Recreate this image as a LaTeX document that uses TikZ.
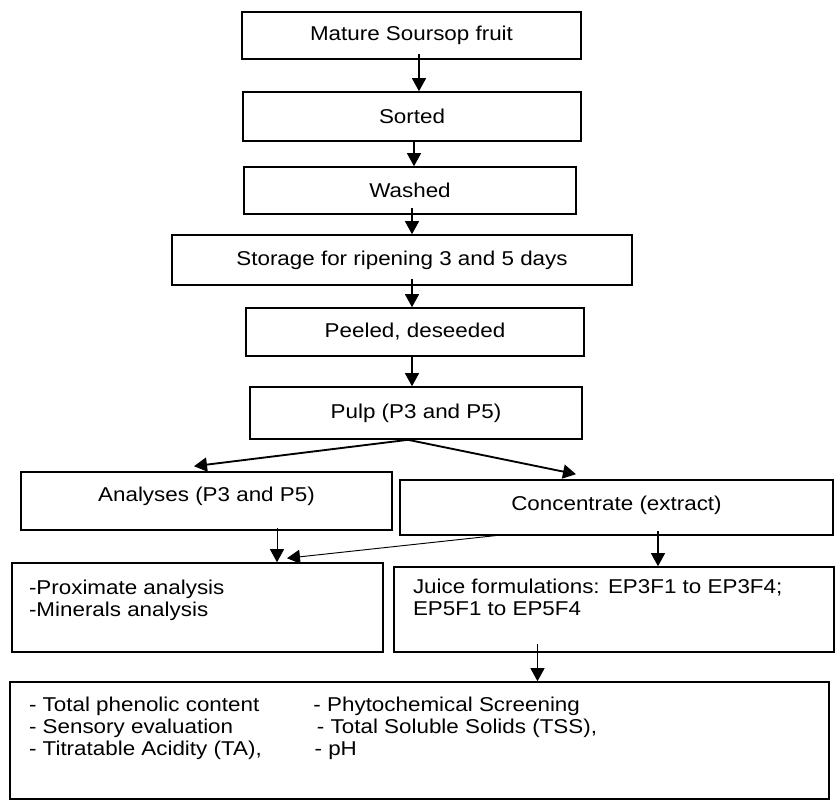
\documentclass[tikz,border=0pt]{standalone}
\usepackage{fontspec}
\setmainfont{Liberation Sans}[FakeStretch=1.12]
\usetikzlibrary{arrows.meta,calc}
\newcommand\diafont{\fontsize{15}{16.5}\selectfont}
\begin{document}
\begin{tikzpicture}[x=0.75pt,y=-0.75pt,
  box/.style={draw, line width=1.2pt, inner sep=0pt, align=center, font=\diafont},
  listbox/.style={draw, line width=1.2pt, inner ysep=0pt, font=\diafont},
  arr/.style={-{Triangle[width=10.5pt,length=9.75pt]}, line width=0.9pt},
  thinarr/.style={-{Triangle[width=10.5pt,length=9.75pt]}, line width=0.7pt},
  thickarr/.style={-{Triangle[width=10.5pt,length=9.75pt]}, line width=1.4pt}]
\path[fill=white, use as bounding box] (0,0) rectangle (836,801);

% process boxes
\node[box, minimum width=254.25pt, minimum height=35.25pt] (n1) at (411.5,35.5) {Mature Soursop fruit};
\node[box, minimum width=253.5pt, minimum height=36.75pt] (n2) at (412,116.5) {Sorted};
\node[box, minimum width=249pt, minimum height=35.25pt] (n3) at (410,190.5) {Washed};
\node[box, minimum width=345pt, minimum height=37.5pt] (n4) at (402,260) {Storage for ripening 3 and 5 days};
\node[box, minimum width=253.5pt, minimum height=36pt] (n5) at (415,332) {Peeled, deseeded};
\node[box, minimum width=249pt, minimum height=39pt] (n6) at (416,413) {Pulp (P3 and P5)};
\node[box, minimum width=278.25pt, text height=21.9pt, text depth=21.6pt] (n7) at (206.5,501) {Analyses (P3 and P5)};
\node[box, minimum width=324.75pt, text height=22.65pt, text depth=18.6pt] (n8) at (616.5,507.5) {Concentrate (extract)};

\node[listbox, inner xsep=12.75pt, text height=23.25pt, text depth=43.5pt] (n9) at (197.5,607.5)
  {\makebox[252.75pt][l]{\begin{tabular}[t]{@{}l@{}}-Proximate analysis\\-Minerals analysis\end{tabular}}};
\node[listbox, inner xsep=14.25pt, text height=19.5pt, text depth=44.25pt] (n10) at (614,609.5)
  {\makebox[301.5pt][l]{\begin{tabular}[t]{@{}l@{}}Juice formulations: EP3F1 to EP3F4;\\EP5F1 to EP5F4\end{tabular}}};
\node[listbox, inner xsep=14.25pt, text height=21.75pt, text depth=66pt] (n11) at (419.5,740.5)
  {\makebox[585.75pt][l]{\begin{tabular}[t]{@{}p{213.4pt}@{}l@{}}
  - Total phenolic content & - Phytochemical Screening\\
  - Sensory evaluation & \hspace{2.6pt}- Total Soluble Solids (TSS),\\
  - Titratable Acidity (TA), & \hspace{0.8pt}- pH
  \end{tabular}}};

% connector columns
\coordinate (c1) at (419,0);
\coordinate (c2) at (414,0);
\coordinate (c3) at (412,0);
\coordinate (cp) at (408,0);
\coordinate (cA) at (277,0);
\coordinate (cC) at (658,0);
\coordinate (cJ) at (537.5,0);
\coordinate (tA) at (194,0);
\coordinate (tC) at (576,0);
\coordinate (sD) at (503,0);
\coordinate (tD) at (287,0);

% connectors
\draw[arr] ($(n1.south -| c1)+(0,-6)$) -- (n2.north -| c1);
\draw[arr] (n2.south -| c2) -- (n3.north -| c2);
\draw[arr] ($(n3.south -| c3)+(0,-7)$) -- (n4.north -| c3);
\draw[arr] ($(n4.south -| c3)+(0,-7)$) -- (n5.north -| c3);
\draw[arr] (n5.south -| c3) -- (n6.north -| c3);
\draw[thickarr] (n6.south -| cp) -- ($(n7.north -| tA)+(0,-5)$);
\draw[thickarr] (n6.south -| cp) -- ($(n8.north -| tC)+(0,-5)$);
\draw[thinarr] ($(n7.south -| cA)+(0,-3)$) -- (n9.north -| cA);
\draw[thinarr] ($(n8.south -| sD)+(0,-1)$) -- ($(n9.north -| tD)+(0,-4)$);
\draw[arr] ($(n8.south -| cC)+(0,-5)$) -- (n10.north -| cC);
\draw[arr] ($(n10.south -| cJ)+(0,-9)$) -- (n11.north -| cJ);
\end{tikzpicture}
\end{document}
